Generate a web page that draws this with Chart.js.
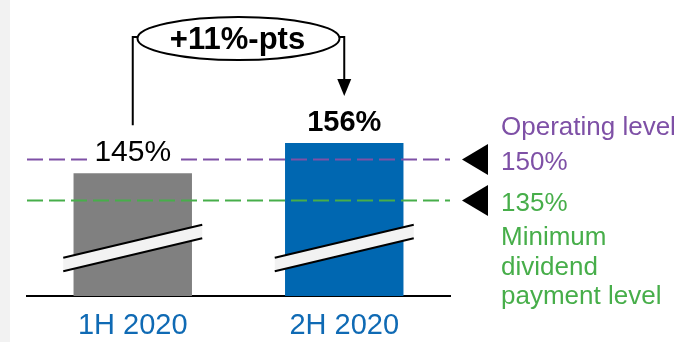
<!DOCTYPE html>
<html>
<head>
<meta charset="utf-8">
<script src="https://cdn.jsdelivr.net/npm/chart.js@4.4.0/dist/chart.umd.min.js"></script>
<style>
  html, body { margin: 0; padding: 0; background: #fff; }
</style>
</head>
<body>
<canvas id="ratio" width="692" height="342"></canvas>
<script>
const categories = ['1H 2020', '2H 2020'];
const ratios = [145, 156];
const barColors = ['#808080', '#0067b1'];

// reference levels drawn as dashed lines
const levelValues = [150, 135];
const levelColors = ['#7e50a6', '#47ae4a'];
const levelAbove = [['Operating level'], []];
const levelBelow = [[], ['Minimum', 'dividend', 'payment level']];

const FONT = "Arial, 'Liberation Sans', sans-serif";

function dashedLine(ctx, x0, x1, y, color) {
  ctx.save();
  ctx.strokeStyle = color;
  ctx.lineWidth = 2;
  ctx.setLineDash([16, 6]);
  ctx.beginPath();
  ctx.moveTo(x0, y);
  ctx.lineTo(x1, y);
  ctx.stroke();
  ctx.restore();
}

// axis break mark across a bar
function drawBreak(ctx, cx, cy) {
  const hw = 69.5, rise = 16.5, half = 6.75;
  ctx.save();
  ctx.fillStyle = '#f2f2f2';
  ctx.beginPath();
  ctx.moveTo(cx - hw, cy + rise - half);
  ctx.lineTo(cx + hw, cy - rise - half);
  ctx.lineTo(cx + hw, cy - rise + half);
  ctx.lineTo(cx - hw, cy + rise + half);
  ctx.closePath();
  ctx.fill();
  ctx.strokeStyle = '#000';
  ctx.lineWidth = 2;
  ctx.beginPath();
  ctx.moveTo(cx - hw, cy + rise - half);
  ctx.lineTo(cx + hw, cy - rise - half);
  ctx.moveTo(cx - hw, cy + rise + half);
  ctx.lineTo(cx + hw, cy - rise + half);
  ctx.stroke();
  ctx.restore();
}

const overlay = {
  id: 'overlay',
  beforeDraw(chart) {
    const ctx = chart.ctx;
    ctx.save();
    ctx.fillStyle = '#fff';
    ctx.fillRect(0, 0, chart.width, chart.height);
    ctx.fillStyle = '#f2f2f2';
    ctx.fillRect(0, 0, 10, chart.height);
    ctx.restore();
  },
  afterDatasetsDraw(chart) {
    const ctx = chart.ctx;
    const area = chart.chartArea;
    const yScale = chart.scales.y;
    const bars = chart.getDatasetMeta(0).data;

    bars.forEach(bar => drawBreak(ctx, bar.x, area.bottom - 48));

    // dashed levels with pointers and captions
    levelValues.forEach((v, i) => {
      const py = yScale.getPixelForValue(v);
      dashedLine(ctx, area.left, area.right, py, levelColors[i]);

      const tx = area.right + 12;
      ctx.save();
      ctx.fillStyle = '#000';
      ctx.beginPath();
      ctx.moveTo(tx, py);
      ctx.lineTo(tx + 26, py - 15.5);
      ctx.lineTo(tx + 26, py + 15.5);
      ctx.closePath();
      ctx.fill();

      ctx.fillStyle = levelColors[i];
      ctx.font = '26px ' + FONT;
      ctx.textAlign = 'left';
      ctx.textBaseline = 'alphabetic';
      const lx = area.right + 51;
      ctx.fillText(v + '%', lx, py + 10.5);
      levelAbove[i].forEach((t, k) => ctx.fillText(t, lx, py - 24.5 - k * 32));
      levelBelow[i].forEach((t, k) => ctx.fillText(t, lx, py + 45 + k * 29.5));
      ctx.restore();
    });

    // value labels over the bars
    bars.forEach((bar, i) => {
      ctx.save();
      ctx.font = (i === 1 ? 'bold 29px ' : '30px ') + FONT;
      ctx.textAlign = 'center';
      ctx.textBaseline = 'alphabetic';
      const label = ratios[i] + '%';
      if (i === 0) {
        const w = ctx.measureText(label).width;
        ctx.fillStyle = '#fff';
        ctx.fillRect(bar.x - w / 2 - 5, bar.y - 40, w + 10, 28);
      }
      ctx.fillStyle = '#000';
      ctx.fillText(label, bar.x, bar.y - 12);
      ctx.restore();
    });

    // change bubble with connector and arrow
    const b0 = bars[0], b1 = bars[1];
    const cx = (b0.x + b1.x) / 2, cy = 38.5, rx = 101, ry = 21.5;
    const hy = 37;
    ctx.save();
    ctx.strokeStyle = '#000';
    ctx.lineWidth = 2;
    ctx.beginPath();
    ctx.moveTo(b0.x, b0.y - 48);
    ctx.lineTo(b0.x, hy);
    ctx.lineTo(cx - rx, hy);
    ctx.moveTo(cx + rx, hy);
    ctx.lineTo(b1.x, hy);
    ctx.lineTo(b1.x, b1.y - 60);
    ctx.stroke();

    ctx.fillStyle = '#000';
    ctx.beginPath();
    ctx.moveTo(b1.x, b1.y - 47);
    ctx.lineTo(b1.x - 7, b1.y - 64);
    ctx.lineTo(b1.x + 7, b1.y - 64);
    ctx.closePath();
    ctx.fill();

    ctx.fillStyle = '#fff';
    ctx.beginPath();
    ctx.ellipse(cx, cy, rx, ry, 0, 0, Math.PI * 2);
    ctx.fill();
    ctx.stroke();

    ctx.fillStyle = '#000';
    ctx.font = 'bold 31px ' + FONT;
    ctx.textAlign = 'center';
    ctx.textBaseline = 'alphabetic';
    const diff = ratios[1] - ratios[0];
    ctx.fillText((diff >= 0 ? '+' : '') + diff + '%-pts', cx - 1, cy + 10.5);
    ctx.restore();
  }
};

new Chart(document.getElementById('ratio'), {
  type: 'bar',
  data: {
    labels: categories,
    datasets: [{
      data: ratios,
      backgroundColor: barColors,
      categoryPercentage: 1,
      barPercentage: 0.56
    }]
  },
  options: {
    responsive: false,
    animation: false,
    devicePixelRatio: 1,
    layout: { padding: { left: 27, right: 242, top: 23, bottom: 0 } },
    plugins: {
      legend: { display: false },
      tooltip: { enabled: false }
    },
    scales: {
      y: { display: false, min: 100, max: 200 },
      x: {
        grid: { display: false, drawTicks: false },
        border: { display: true, color: '#000', width: 2 },
        ticks: {
          color: '#0f6ab4',
          font: { family: FONT, size: 29 },
          padding: 13
        },
        afterFit(scale) { scale.height = 46; }
      }
    }
  },
  plugins: [overlay]
});
</script>
</body>
</html>
